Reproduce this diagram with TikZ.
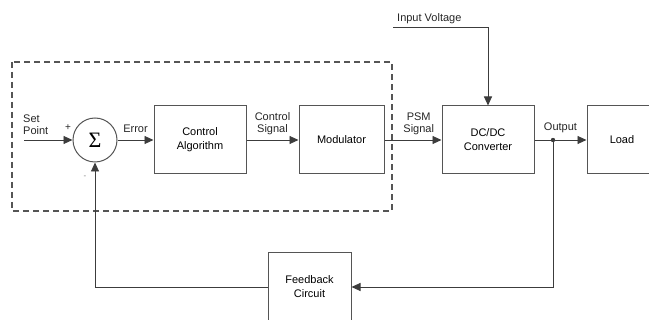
\documentclass[tikz,border=0pt]{standalone}
\usepackage{fontspec}
\setmainfont{Liberation Sans}
\newfontfamily\sigmafont{Liberation Serif}
\usepackage{xcolor}
\usepackage{tikz}
\usetikzlibrary{arrows.meta,positioning}

\definecolor{linegray}{HTML}{3C3C3C}
\definecolor{boxgray}{HTML}{555555}

\begin{document}
\begin{tikzpicture}[
    x=1pt, y=-1pt,
    font=\fontsize{11}{12}\selectfont,
    block/.style={draw=boxgray, line width=1pt, minimum height=68pt, align=center, inner sep=0pt, font=\fontsize{11}{14}\selectfont},
    sumnode/.style={draw=boxgray, line width=1pt, circle, minimum size=44pt, inner sep=0pt, font=\sigmafont\fontsize{22}{22}\selectfont},
    arrow/.style={-{Triangle[length=9pt, width=8pt]}, draw=linegray, line width=0.9pt},
    lbl/.style={align=center, inner sep=1pt, text=black!85}
  ]
    \useasboundingbox (0,0) rectangle (649,320);
    \clip (0,0) rectangle (649,320);

    % controller boundary
    \draw[boxgray, line width=1.3pt, dash pattern=on 6pt off 4pt] (12,62) rectangle (392,211);

    % forward path
    \node[sumnode] (sum) at (95,140) {Σ};
    \node[block, minimum width=92pt, right=36pt of sum] (algo) {Control\\Algorithm};
    \node[block, minimum width=85pt, right=52pt of algo] (mod) {Modulator};
    \node[block, minimum width=92pt, right=57pt of mod] (conv) {DC/DC\\Converter};
    \node[block, minimum width=70pt, right=52pt of conv] (load) {Load};
    \node[block, minimum width=83pt] (fb) at (309.5,287) {Feedback\\Circuit};

    % inputs
    \coordinate (setpt) at (24,140);
    \coordinate (vin) at (393,27);
    \node[lbl, anchor=south west, align=left] (setlbl) at (22,136) {Set\\Point};
    \node[lbl, font=\fontsize{10}{10}\selectfont] (plus) at (68,128) {+};
    \node[lbl, text=gray, font=\fontsize{8}{8}\selectfont] (minus) at (85,177) {-};
    \node[lbl, anchor=south west] (vinlbl) at (396,25) {Input Voltage};

    \draw[arrow] (setpt) -- (sum);
    \draw[arrow] (sum) -- node[lbl, above=6pt] {Error} (algo);
    \draw[arrow] (algo) -- node[lbl, above=4pt] {Control\\Signal} (mod);
    \draw[arrow] (mod) -- node[lbl, above=4pt, pos=0.6] {PSM\\Signal} (conv);
    \draw[arrow] (vin) -| (conv.north);

    % output and feedback
    \coordinate (tap) at (553,140);
    \draw[arrow] (conv) -- node[lbl, above=6pt, pos=0.5] {Output} (load);
    \fill[linegray] (tap) circle (2.2pt);
    \draw[arrow] (tap) |- (fb.east);
    \draw[arrow] (fb.west) -| (sum.south);
  \end{tikzpicture}
\end{document}
